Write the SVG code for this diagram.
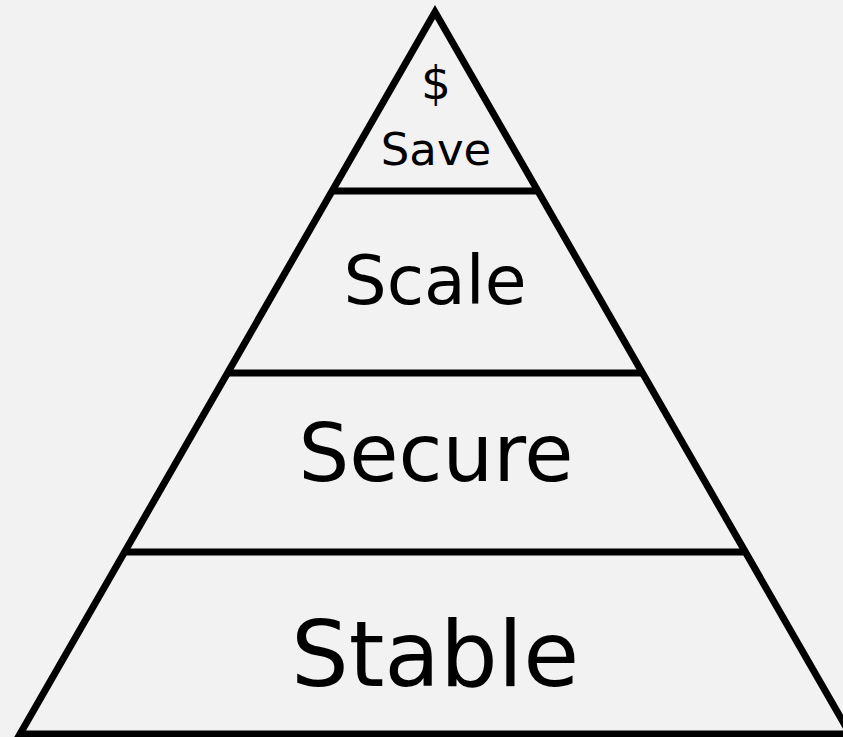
<svg xmlns="http://www.w3.org/2000/svg" width="843" height="737" viewBox="0 0 843 737">
<style>
.ln{stroke:#000;stroke-width:7;fill:none}
.t{font-family:"DejaVu Sans",Verdana,sans-serif;fill:#000;text-anchor:middle}
</style>
<rect width="843" height="737" fill="#f2f2f2"/>
<g id="connectors">
<polygon class="ln" points="435,12 850,734 20,734" stroke-linejoin="miter"/>
<line class="ln" x1="333" y1="191" x2="537" y2="191"/>
<line class="ln" x1="227" y1="373" x2="643" y2="373"/>
<line class="ln" x1="124" y1="552" x2="746" y2="552"/>
</g>
<g id="save"><text class="t" x="436" y="99" font-size="47">$</text><text class="t" x="436" y="165" font-size="45">Save</text></g>
<g id="scale"><text class="t" x="435" y="304" font-size="68">Scale</text></g>
<g id="secure"><text class="t" x="436" y="481" font-size="80">Secure</text></g>
<g id="stable"><text class="t" x="435" y="686" font-size="91">Stable</text></g>
</svg>
